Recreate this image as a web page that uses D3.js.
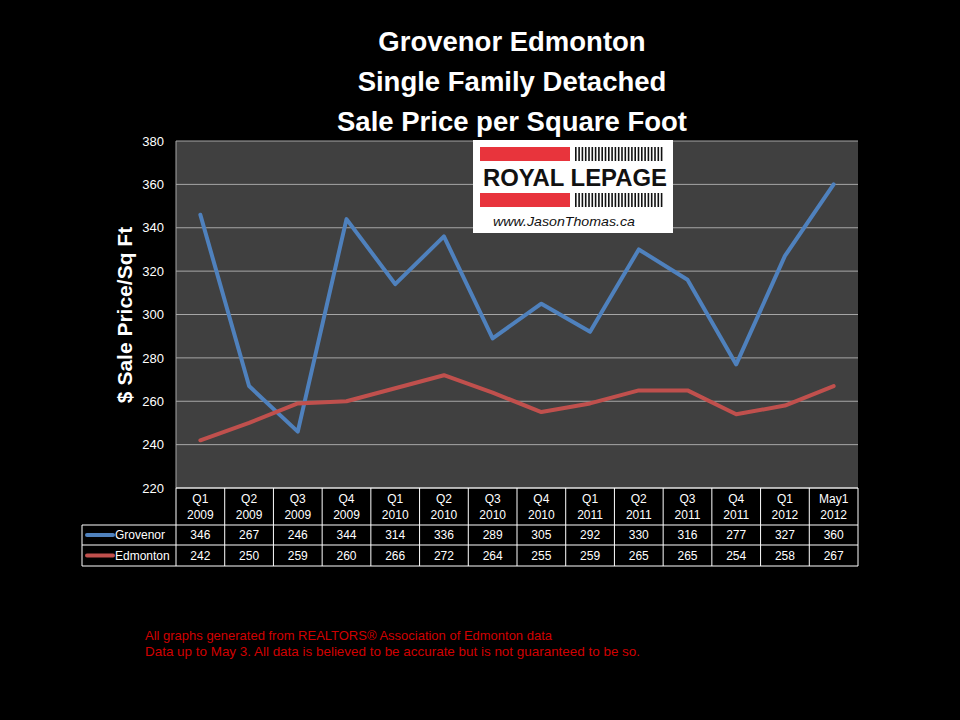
<!DOCTYPE html>
<html><head><meta charset="utf-8">
<script src="https://cdn.jsdelivr.net/npm/d3@7"></script>
<style>html,body{margin:0;padding:0;background:#000;}svg{display:block;}</style>
</head><body>
<svg id="c" width="960" height="720"></svg>
<script>
const quarters = ["Q1","Q2","Q3","Q4","Q1","Q2","Q3","Q4","Q1","Q2","Q3","Q4","Q1","May1"];
const years = ["2009","2009","2009","2009","2010","2010","2010","2010","2011","2011","2011","2011","2012","2012"];
const grovenor = [346,267,246,344,314,336,289,305,292,330,316,277,327,360];
const edmonton = [242,250,259,260,266,272,264,255,259,265,265,254,258,267];
const seriesNames = ["Grovenor","Edmonton"];
const seriesColors = ["#4f81bd","#c0504d"];
const yTicks = [220,240,260,280,300,320,340,360,380];
const titleLines = ["Grovenor Edmonton","Single Family Detached","Sale Price per Square Foot"];
const footLines = ["All graphs generated from REALTORS\u00AE Association of Edmonton data","Data up to May 3.  All data is believed to be accurate but is not guaranteed to be so."];

const svg = d3.select("#c");
const font = "'Liberation Sans', Arial, sans-serif";
const L = 176, R = 858, T = 141, B = 488;
const cats = quarters.map((q,i)=>i);
const x = d3.scaleBand().domain(cats).range([L,R]);
const y = d3.scaleLinear().domain([220,380]).range([B,T]);

// titles
svg.selectAll("text.title").data(titleLines).join("text")
  .attr("x",512).attr("y",(d,i)=>51+i*40).attr("text-anchor","middle")
  .attr("fill","#fff").attr("font-family",font).attr("font-weight","bold").attr("font-size",27.5)
  .text(d=>d);

// plot bg
svg.append("rect").attr("x",L).attr("y",T).attr("width",R-L).attr("height",B-T).attr("fill","#404040");
// gridlines
svg.append("g").selectAll("line").data(yTicks).join("line")
  .attr("x1",L).attr("x2",R).attr("y1",d=>y(d)).attr("y2",d=>y(d))
  .attr("stroke","#a6a6a6").attr("stroke-width",1);
svg.append("line").attr("x1",L).attr("x2",L).attr("y1",T).attr("y2",B).attr("stroke","#a6a6a6");

// y axis
const yAxis = d3.axisLeft(y).tickValues(yTicks).tickSize(0).tickPadding(12);
const ga = svg.append("g").attr("transform",`translate(${L},0)`).call(yAxis);
ga.select(".domain").remove();
ga.selectAll("text").attr("fill","#fff").attr("font-family",font).attr("font-size",13);

svg.append("text").attr("transform","translate(132,315) rotate(-90)").attr("text-anchor","middle")
  .attr("fill","#fff").attr("font-family",font).attr("font-weight","bold").attr("font-size",21)
  .text("$ Sale Price/Sq Ft");

// logo
const lg = svg.append("g");
lg.append("rect").attr("x",473).attr("y",140).attr("width",200).attr("height",93).attr("fill","#fff");
lg.append("rect").attr("x",480).attr("y",147).attr("width",90).attr("height",14).attr("fill","#e8343c");
lg.append("rect").attr("x",480).attr("y",193).attr("width",90).attr("height",14).attr("fill","#e8343c");
const bars = d3.range(27);
[147,193].forEach(yy=>{
  lg.append("g").selectAll("rect").data(bars).join("rect")
    .attr("x",d=>575+d*3.3).attr("y",yy).attr("width",1.6).attr("height",14).attr("fill","#111");
});
lg.append("text").attr("x",575).attr("y",186).attr("text-anchor","middle").attr("fill","#111")
  .attr("font-family",font).attr("font-weight","bold").attr("font-size",24).attr("textLength",184).attr("lengthAdjust","spacingAndGlyphs")
  .text("ROYAL LEPAGE");
lg.append("text").attr("x",493).attr("y",226).attr("fill","#111").attr("font-family",font).attr("font-style","italic").attr("font-size",13)
  .attr("textLength",142).attr("lengthAdjust","spacingAndGlyphs")
  .text("www.JasonThomas.ca");

// lines
const series = [grovenor, edmonton];
const line = d3.line().x((d,i)=>x(i)+x.bandwidth()/2).y(d=>y(d));
svg.append("g").selectAll("path").data(series).join("path")
  .attr("d",d=>line(d)).attr("fill","none").attr("stroke",(d,i)=>seriesColors[i])
  .attr("stroke-width",4).attr("stroke-linecap","round").attr("stroke-linejoin","round");

// data table
const rowH = [B,525,545,566];
const tL = 82;
const tg = svg.append("g");
const gc = "#fff";
tg.append("line").attr("x1",L).attr("x2",R).attr("y1",B).attr("y2",B).attr("stroke",gc);
[525,545,566].forEach(yy=>tg.append("line").attr("x1",tL).attr("x2",R).attr("y1",yy).attr("y2",yy).attr("stroke",gc));
tg.append("line").attr("x1",tL).attr("x2",tL).attr("y1",525).attr("y2",566).attr("stroke",gc);
tg.selectAll("line.v").data(d3.range(15)).join("line").attr("class","v")
  .attr("x1",d=>L+d*x.bandwidth()).attr("x2",d=>L+d*x.bandwidth()).attr("y1",B).attr("y2",566).attr("stroke",gc);
const hdr = tg.append("g").selectAll("text").data(cats).join("text")
  .attr("text-anchor","middle").attr("fill","#fff").attr("font-family",font).attr("font-size",12);
hdr.append("tspan").attr("x",d=>x(d)+x.bandwidth()/2).attr("y",503).text(d=>quarters[d]);
hdr.append("tspan").attr("x",d=>x(d)+x.bandwidth()/2).attr("y",519).text(d=>years[d]);
series.forEach((s,si)=>{
  const cy = (rowH[si+1]+rowH[si+2])/2+4;
  tg.append("g").selectAll("text").data(s).join("text")
    .attr("x",(d,i)=>x(i)+x.bandwidth()/2).attr("y",cy).attr("text-anchor","middle")
    .attr("fill","#fff").attr("font-family",font).attr("font-size",12).text(d=>d);
  tg.append("line").attr("x1",87).attr("x2",113).attr("y1",cy-4).attr("y2",cy-4)
    .attr("stroke",seriesColors[si]).attr("stroke-width",4).attr("stroke-linecap","round");
  tg.append("text").attr("x",115).attr("y",cy).attr("fill","#fff").attr("font-family",font).attr("font-size",12)
    .text(seriesNames[si]);
});

// footnote
svg.selectAll("text.foot").data(footLines).join("text")
  .attr("x",145).attr("y",(d,i)=>640+i*16).attr("fill","#d00000").attr("font-family",font).attr("font-size",13)
  .attr("textLength",(d,i)=>i===0?407:495).attr("lengthAdjust","spacingAndGlyphs")
  .text(d=>d);
</script>
</body></html>
